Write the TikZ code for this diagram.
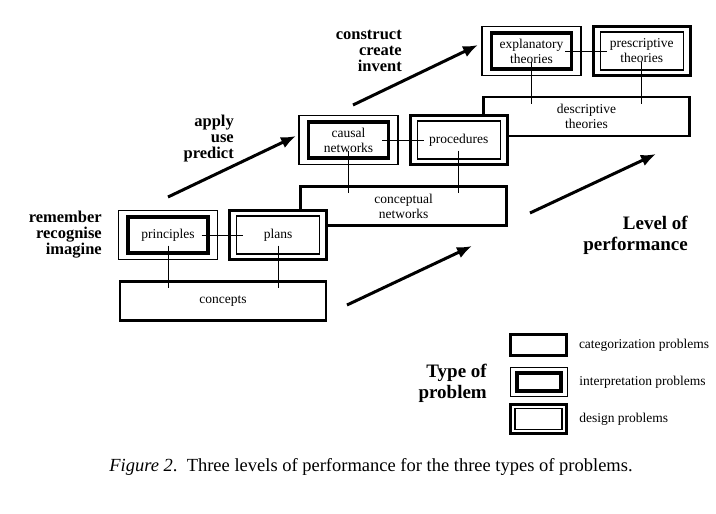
\documentclass[tikz,border=0pt]{standalone}
\usepackage{fontspec}
\setmainfont{Liberation Serif}
\usetikzlibrary{positioning,calc,backgrounds,arrows.meta}

\begin{document}
\begin{tikzpicture}[x=1pt,y=1pt,node distance=10pt,inner sep=0pt]
\tikzstyle{lbl}=[font=\fontsize{13.5}{15}\selectfont, align=center]
\tikzstyle{catbox}=[lbl, rectangle, draw, line width=2.6pt, minimum width=206pt, minimum height=39pt]
\tikzstyle{thinframe}=[rectangle, draw, fill=white, line width=1.2pt, minimum width=99pt, minimum height=49pt]
\tikzstyle{thickframe}=[rectangle, draw, fill=white, line width=3.2pt, minimum width=97pt, minimum height=49pt]
\tikzstyle{thickbox}=[lbl, rectangle, draw, line width=3.2pt, minimum width=80pt, minimum height=36pt]
\tikzstyle{thinbox}=[lbl, rectangle, draw, line width=1.2pt, minimum width=83pt, minimum height=38pt]
\tikzstyle{link}=[line width=0.8pt]
\tikzstyle{climb}=[line width=3pt, -{Latex[length=15pt,width=12pt]}]
\tikzstyle{verbs}=[align=right, anchor=east, font=\bfseries\fontsize{16.5}{16}\selectfont]
\tikzstyle{heading}=[align=right, anchor=east, font=\bfseries\fontsize{19}{21}\selectfont]
\useasboundingbox (0,0) rectangle (716,-514);

% level 1
\node[thinframe] (princF) at (168,-235) {};
\node[thickbox] (princ) at (princF) {principles};
\node[thickframe] (plansF) [right=of princF] {};
\node[thinbox] (plans) at (plansF) {plans};
\coordinate (mid1) at ($(princF.south)!.5!(plansF.south)$);
\begin{scope}[on background layer]
\node[catbox] (conc) [below=19.5pt of mid1] {concepts};
\end{scope}

% level 2
\node[thinframe] (causalF) at (348.5,-140) {};
\node[thickbox] (causal) at (causalF) {causal\\networks};
\node[thickframe] (procF) [right=of causalF] {};
\node[thinbox] (proc) at (procF) {procedures};
\coordinate (mid2) at ($(causalF.south)!.5!(procF.south)$);
\begin{scope}[on background layer]
\node[catbox] (concnet) [below=19.5pt of mid2] {conceptual\\networks};
\end{scope}

% level 3
\node[thinframe] (explF) at (531.5,-51) {};
\node[thickbox] (expl) at (explF) {explanatory\\theories};
\node[thickframe] (prescF) [right=of explF] {};
\node[thinbox] (presc) at (prescF) {prescriptive\\theories};
\coordinate (mid3) at ($(explF.south)!.5!(prescF.south)$);
\begin{scope}[on background layer]
\node[catbox] (descr) [below=19pt of mid3] {descriptive\\theories};
\end{scope}

\foreach \a/\b in {princ/plans, causal/proc, expl/presc}
  \draw[link] ([xshift=-8pt]\a.east) -- ([xshift=7pt]\b.west);
\foreach \up/\low in {princ/conc, plans/conc, causal/concnet, proc/concnet, expl/descr, presc/descr}
  \draw[link] ([yshift=9pt]\up.south) -- ($(\up.south |- \low.north)+(0,-8)$);

% arrows between the levels
\coordinate (s1) at (168,-197); \coordinate (e1) at (296,-136);
\coordinate (s2) at (353,-105); \coordinate (e2) at (478,-45);
\coordinate (s3) at (347,-305); \coordinate (e3) at (472,-246);
\coordinate (s4) at (530,-213); \coordinate (e4) at (656,-154);
\foreach \i in {1,...,4}
  \draw[climb] (s\i) -- (e\i);

\node[verbs] (v1) at (102,-235) {remember\\recognise\\imagine};
\node[verbs] (v2) at (234,-139) {apply\\use\\predict};
\node[verbs] (v3) at (402,-51) {construct\\create\\invent};
\node[heading] (level) at (688,-235) {Level of\\performance};
\node[heading] (type) at (487,-383) {Type of\\problem};

% legend
\node[catbox, minimum width=56pt, minimum height=21pt] (legcat) at (538.5,-345) {};
\node[thinframe, minimum width=57pt, minimum height=29pt] (legintF) at (539,-382) {};
\node[thickbox, minimum width=44pt, minimum height=18pt] (legint) at (legintF) {};
\node[thickframe, minimum width=56pt, minimum height=29pt] (legdesF) at (538.5,-419) {};
\node[thinbox, minimum width=47pt, minimum height=21pt] (legdes) at (legdesF) {};
\node[lbl, anchor=west] (tcat) [right=11pt of legcat] {categorization problems};
\node[lbl, anchor=west] (tint) [right=11pt of legintF] {interpretation problems};
\node[lbl, anchor=west] (tdes) [right=11pt of legdesF] {design problems};

\node[font=\fontsize{18.5}{20}\selectfont] (caption) at (371,-467) {\textit{Figure 2}.\ \ Three levels of performance for the three types of problems.};
\end{tikzpicture}
\end{document}
